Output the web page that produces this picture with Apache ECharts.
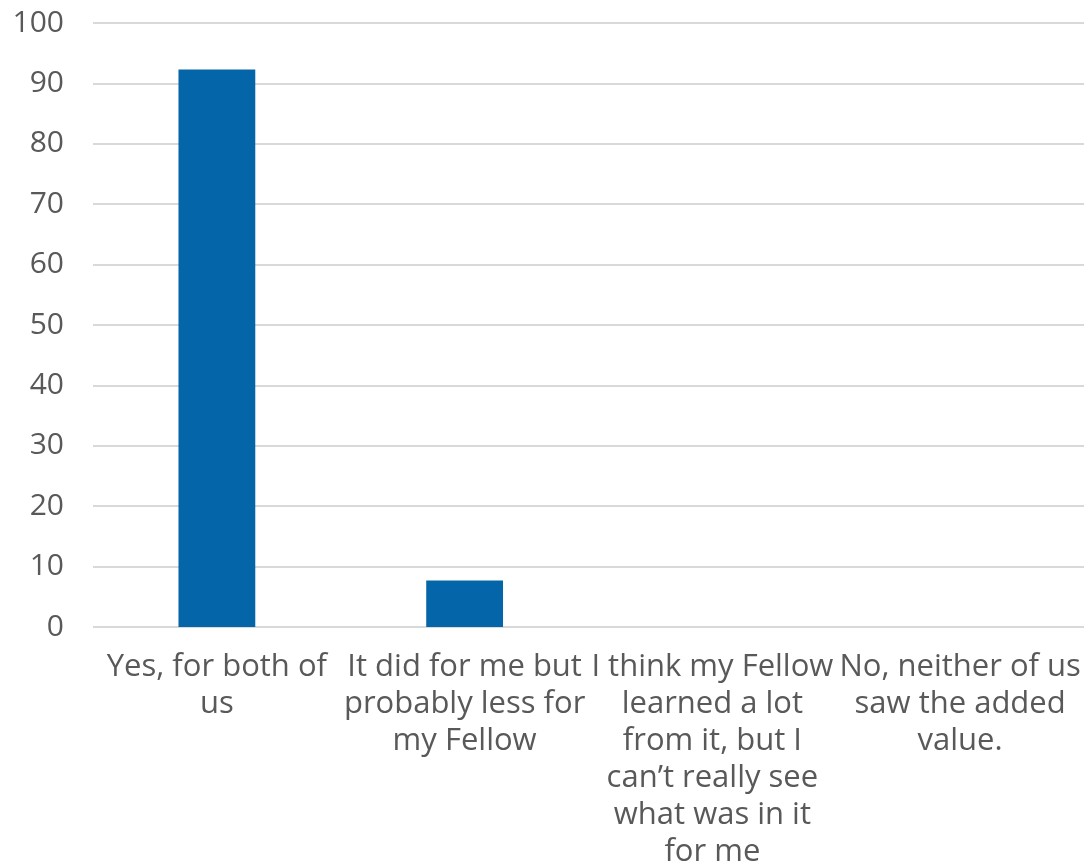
<!DOCTYPE html>
<html>
<head>
<meta charset="utf-8">
<script src="https://cdn.jsdelivr.net/npm/echarts@6/dist/echarts.min.js"></script>
<style>
  html, body { margin: 0; padding: 0; background: #ffffff; }
  #chart { width: 1084px; height: 866px; }
</style>
</head>
<body>
<div id="chart"></div>
<script>
// Survey answers (labels broken over lines as displayed under the axis)
const categories = [
  'Yes, for both of\nus',
  'It did for me but\nprobably less for\nmy Fellow',
  'I think my Fellow\nlearned a lot\nfrom it, but I\ncan\u2019t really see\nwhat was in it\nfor me',
  'No, neither of us\nsaw the added\nvalue.'
];
// Percentage of respondents per answer
const values = [92.3, 7.7, 0, 0];
// Value axis range
const yMin = 0;
const yMax = 100;
const yStep = 10;

const FONT = '"Open Sans", "DejaVu Sans", sans-serif';
const TEXT = '#595959';

const chart = echarts.init(document.getElementById('chart'), null, { renderer: 'canvas' });
chart.setOption({
  animation: false,
  grid: {
    left: 93, right: 0, top: 23, bottom: 239,
    containLabel: false,
    outerBoundsMode: 'none'
  },
  xAxis: {
    type: 'category',
    data: categories,
    axisLine: { show: false },
    axisTick: { show: false },
    axisLabel: {
      interval: 0,
      margin: 22,
      color: TEXT,
      fontFamily: FONT,
      fontSize: 31,
      lineHeight: 37,
      align: 'center'
    }
  },
  yAxis: {
    type: 'value',
    min: yMin,
    max: yMax,
    interval: yStep,
    axisLine: { show: false },
    axisTick: { show: false },
    splitLine: { lineStyle: { color: '#d9d9d9', width: 2 } },
    axisLabel: {
      margin: 29,
      color: TEXT,
      fontFamily: FONT,
      fontSize: 30
    }
  },
  series: [{
    type: 'bar',
    data: values,
    barWidth: '31%',
    itemStyle: { color: '#0466a9' }
  }]
});
</script>
</body>
</html>
